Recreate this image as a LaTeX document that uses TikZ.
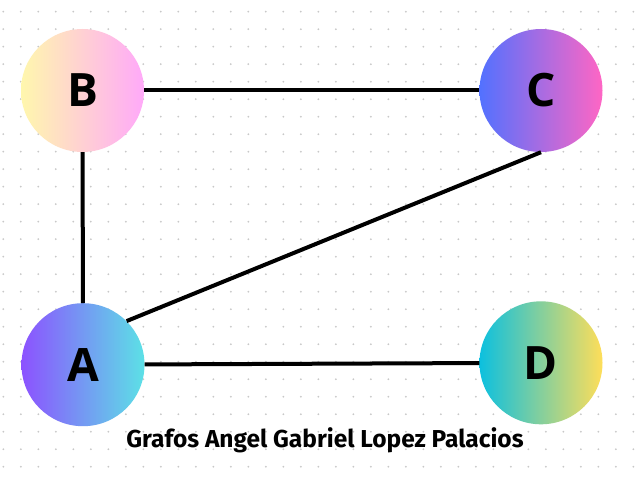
\documentclass[tikz,border=0pt]{standalone}
\usepackage{fontspec}
\setmainfont{Open Sans}
\newfontfamily\titlefont{Fira Sans}

\definecolor{dotgray}{HTML}{C8C8C8}
\definecolor{byellow}{HTML}{FFF7AD}
\definecolor{bpink}{HTML}{FFA9F9}
\definecolor{cblue}{HTML}{5271FF}
\definecolor{cpink}{HTML}{FF66C4}
\definecolor{apurple}{HTML}{8C52FF}
\definecolor{acyan}{HTML}{5CE1E6}
\definecolor{dcyan}{HTML}{0CC0DF}
\definecolor{dyellow}{HTML}{FFDE59}

\begin{document}
\begin{tikzpicture}[x=1pt, y=1pt,
    vertex/.style={circle, minimum size=123pt, inner sep=0pt, font=\fontsize{46}{46}\selectfont\bfseries},
    edge/.style={line width=4pt}]
    \useasboundingbox (0,0) rectangle (635,480);
    \fill[white] (0,0) rectangle (635,480);

    % Dotted background
    \foreach \i in {0,...,36} {
        \foreach \j in {0,...,26} {
            \fill[dotgray] (3.3+17.5*\i, 468.3-17.5*\j) circle (1);
        }
    }

    % Vertices
    \node[vertex, left color=byellow, right color=bpink] (B) at (82.5,389.5) {B};
    \node[vertex, left color=cblue, right color=cpink] (C) at (541,389.5) {C};
    \node[vertex, left color=apurple, right color=acyan] (A) at (83,115.3) {A};
    \node[vertex, left color=dcyan, right color=dyellow] (D) at (541,117.2) {D};

    % Edges
    \draw[edge] (B) -- (C);
    \draw[edge] (B) -- (A);
    \draw[edge] (A.45) -- (C.south);
    \draw[edge] (A) -- (D);

    % Title
    \node[font=\titlefont\fontsize{24.5}{24.5}\selectfont\bfseries] (title) at (325,40) {Grafos Angel Gabriel Lopez Palacios};
\end{tikzpicture}
\end{document}
